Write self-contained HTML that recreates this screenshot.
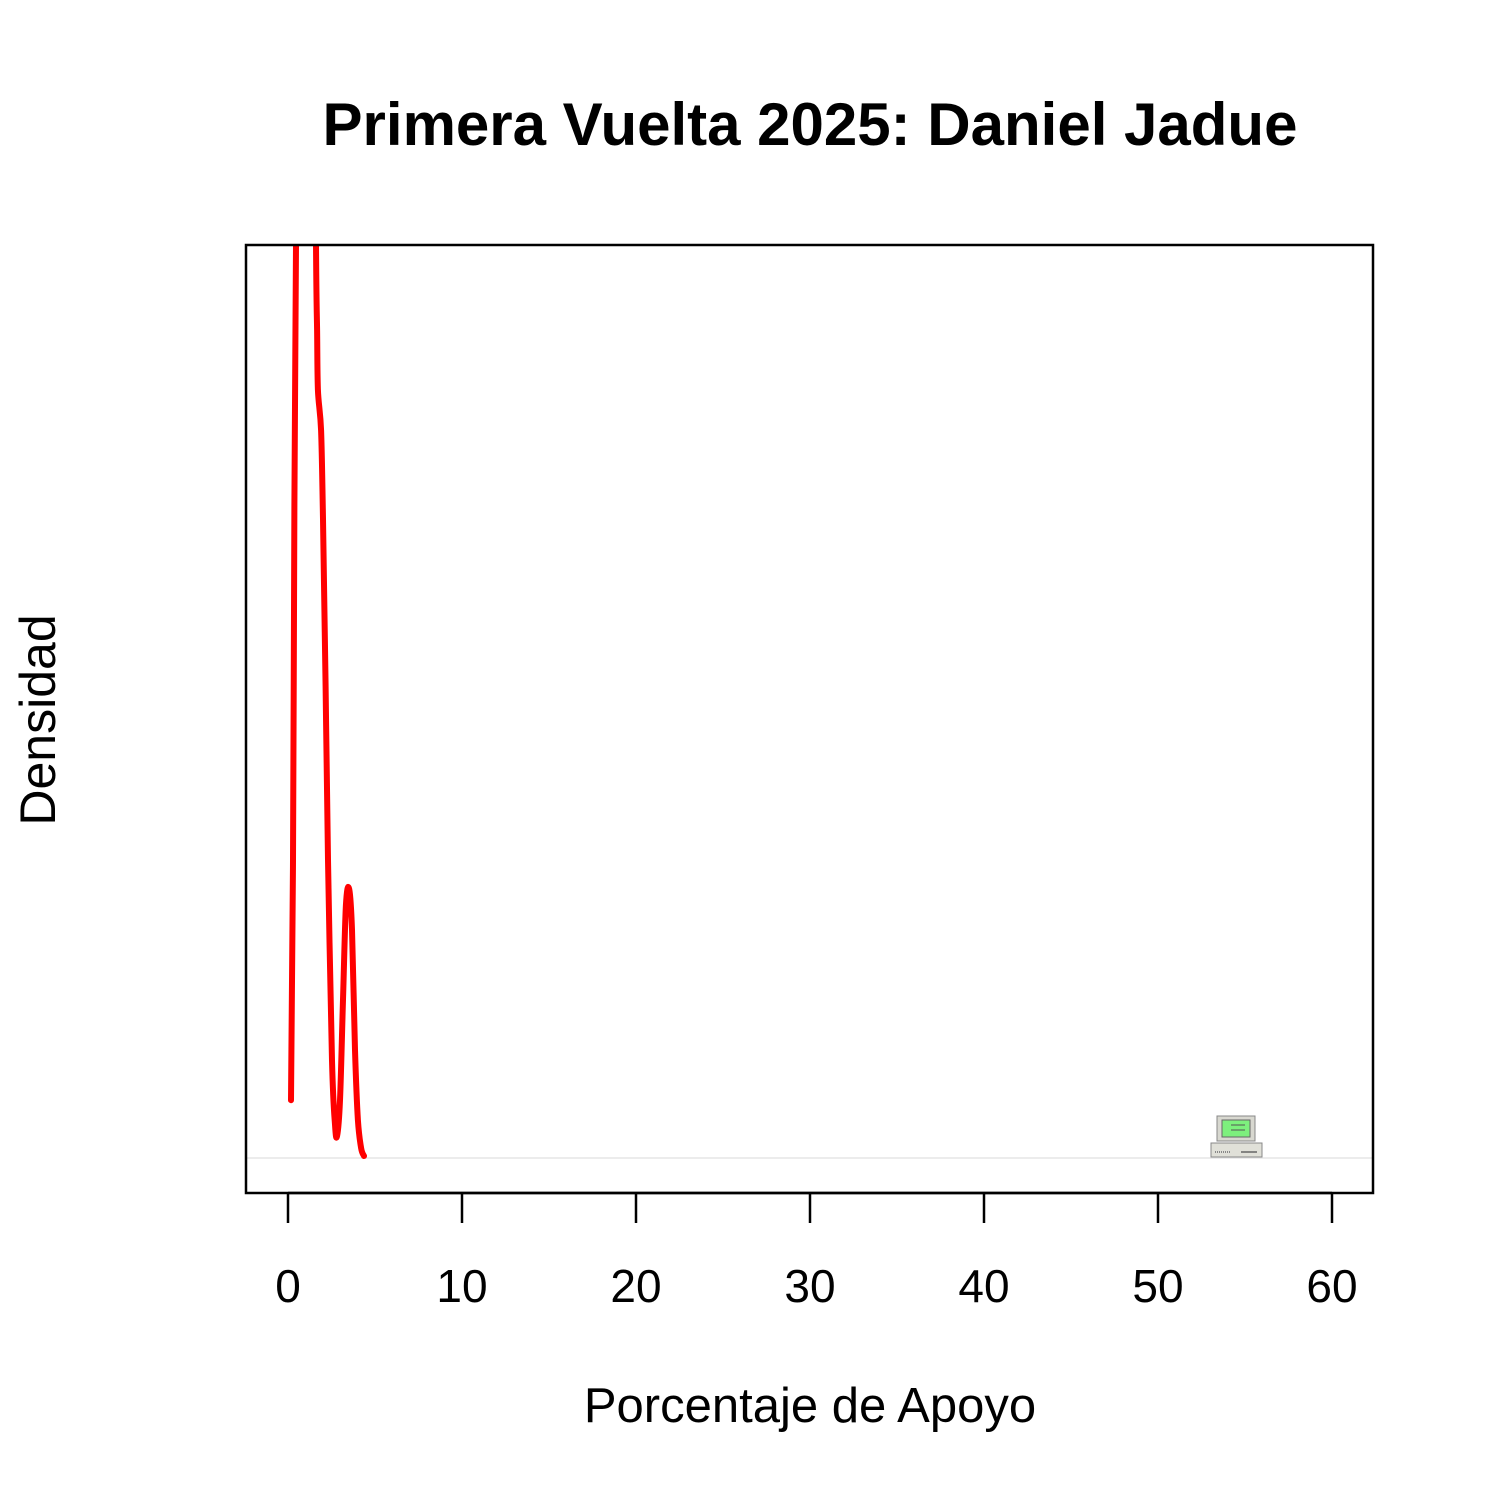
<!DOCTYPE html>
<html><head><meta charset="utf-8"><style>
html,body{margin:0;padding:0;background:#fff;}
svg{display:block;font-family:"Liberation Sans",Arial,sans-serif;}
</style></head><body>
<svg id="chart" width="1500" height="1500" viewBox="0 0 1500 1500">
<defs><clipPath id="plotclip"><rect x="246" y="245" width="1127" height="948"/></clipPath></defs>
<text x="810" y="145" text-anchor="middle" font-size="60" font-weight="bold">Primera Vuelta 2025: Daniel Jadue</text>
<text x="810" y="1422" text-anchor="middle" font-size="49">Porcentaje de Apoyo</text>
<text transform="translate(55,720) rotate(-90)" text-anchor="middle" font-size="50">Densidad</text>
<line x1="246" y1="1158" x2="1373" y2="1158" stroke="#e6e6e6" stroke-width="1.5"/>
<g id="xaxis"></g>
<g clip-path="url(#plotclip)"><path id="curve" fill="none" stroke="#ff0000" stroke-width="6" stroke-linejoin="round" stroke-linecap="round"/></g>
<g transform="translate(1211,1115)">
<rect x="6" y="1" width="38" height="25" fill="#d8d8d0" stroke="#888" stroke-width="1"/>
<rect x="11" y="5" width="28" height="17" fill="#7df07d" stroke="#666" stroke-width="1"/>
<line x1="20" y1="10" x2="34" y2="10" stroke="#555" stroke-width="1"/>
<line x1="20" y1="15" x2="34" y2="15" stroke="#555" stroke-width="1"/>
<rect x="0" y="28" width="51" height="14" fill="#e0e0d8" stroke="#888" stroke-width="1"/>
<line x1="4" y1="37" x2="20" y2="37" stroke="#888" stroke-width="2" stroke-dasharray="1,1"/>
<line x1="30" y1="37" x2="46" y2="37" stroke="#666" stroke-width="1.5"/>
</g>
<rect x="246" y="245" width="1127" height="948" fill="none" stroke="#000" stroke-width="2.5"/>
</svg>
<script>
const xTicks = [0, 10, 20, 30, 40, 50, 60];
const xVals = [0.17, 0.29, 0.37, 0.46, 0.55, 0.9, 1.2, 1.5, 1.61, 1.67, 1.72, 1.9, 2.01, 2.16, 2.30, 2.53, 2.70, 2.82, 2.99, 3.16, 3.33, 3.51, 3.68, 3.85, 4.02, 4.2, 4.37];
const densVals = [0.038, 0.196, 0.43, 0.6, 0.8, 1.1, 1.1, 0.8, 0.6, 0.544, 0.505, 0.478, 0.42, 0.31, 0.196, 0.064, 0.022, 0.0145, 0.038, 0.104, 0.166, 0.177, 0.15, 0.071, 0.025, 0.0066, 0.0013];
const xScale = v => 288 + v * (1332 - 288) / 60;
const yScale = v => 1158 - v * (1158 - 245) / 0.6;
const NS = "http://www.w3.org/2000/svg";
const ax = document.getElementById('xaxis');
const base = document.createElementNS(NS, 'line');
base.setAttribute('x1', xScale(xTicks[0])); base.setAttribute('x2', xScale(xTicks[xTicks.length-1]));
base.setAttribute('y1', 1193); base.setAttribute('y2', 1193);
base.setAttribute('stroke', '#000'); base.setAttribute('stroke-width', '2.5');


ax.appendChild(base);
xTicks.forEach(t => {
  const l = document.createElementNS(NS, 'line');
  l.setAttribute('x1', xScale(t)); l.setAttribute('x2', xScale(t));
  l.setAttribute('y1', 1193); l.setAttribute('y2', 1223);
  l.setAttribute('stroke', '#000'); l.setAttribute('stroke-width', '2.5');
  
  
  ax.appendChild(l);
  const tx = document.createElementNS(NS, 'text');
  tx.setAttribute('x', xScale(t)); tx.setAttribute('y', 1302);
  tx.setAttribute('text-anchor', 'middle'); tx.setAttribute('font-size', '46');
  tx.textContent = t;
  
  
  ax.appendChild(tx);
});
const pts = xVals.map((x, i) => [xScale(x), yScale(densVals[i])]);
let d = 'M' + pts[0][0].toFixed(1) + ',' + pts[0][1].toFixed(1);
for (let i = 0; i < pts.length - 1; i++) {
  const p0 = pts[Math.max(0, i - 1)], p1 = pts[i], p2 = pts[i + 1], p3 = pts[Math.min(pts.length - 1, i + 2)];
  const c1 = [p1[0] + (p2[0] - p0[0]) / 6, p1[1] + (p2[1] - p0[1]) / 6];
  const c2 = [p2[0] - (p3[0] - p1[0]) / 6, p2[1] - (p3[1] - p1[1]) / 6];
  d += ' C' + c1.map(v => v.toFixed(1)).join(',') + ' ' + c2.map(v => v.toFixed(1)).join(',') + ' ' + p2.map(v => v.toFixed(1)).join(',');
}
document.getElementById('curve').setAttribute('d', d);
</script>
</body></html>
